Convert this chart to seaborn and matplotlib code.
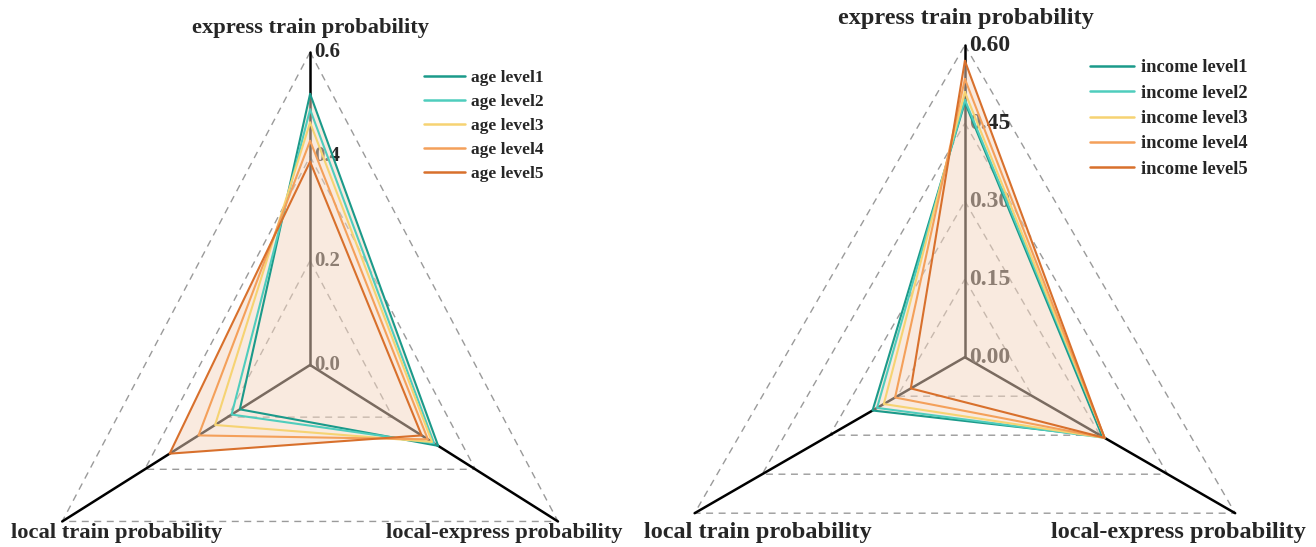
import numpy as np
import pandas as pd
import matplotlib
matplotlib.use("Agg")
import matplotlib.pyplot as plt
import seaborn as sns
from matplotlib.path import Path
from matplotlib.patches import PathPatch

# axis names (order: top, lower right, lower left)
axis_names = ["express train probability", "local-express probability", "local train probability"]

age_levels = ["age level1", "age level2", "age level3", "age level4", "age level5"]
age_express = [0.52, 0.49, 0.465, 0.43, 0.39]
age_local_express = [0.31, 0.30, 0.295, 0.285, 0.27]
age_local = [0.17, 0.19, 0.23, 0.27, 0.34]
age_ticks = [0.0, 0.2, 0.4, 0.6]
age_tick_labels = ["0.0", "0.2", "0.4", "0.6"]

income_levels = ["income level1", "income level2", "income level3", "income level4", "income level5"]
income_express = [0.49, 0.495, 0.51, 0.535, 0.57]
income_local_express = [0.305, 0.31, 0.31, 0.31, 0.31]
income_local = [0.205, 0.195, 0.18, 0.155, 0.12]
income_ticks = [0.0, 0.15, 0.30, 0.45, 0.60]
income_tick_labels = ["0.00", "0.15", "0.30", "0.45", "0.60"]

colors = ["#1b9a8a", "#4fcdbd", "#f6d372", "#f4a05a", "#d8702c"]

angles = np.deg2rad([90, -30, 210])

sns.set_style("white")
plt.rcParams["font.family"] = ["Liberation Serif", "DejaVu Serif"]
plt.rcParams["font.weight"] = "bold"


def radar(ax, levels, express, local_express, local, ticks, tick_labels, fs, leg_anchor, leg_fs):
    rows = []
    for i, lv in enumerate(levels):
        vals = [express[i], local_express[i], local[i], express[i]]
        angs = list(angles) + [angles[0]]
        for v, a in zip(vals, angs):
            rows.append({"level": lv, "x": v * np.cos(a), "y": v * np.sin(a)})
    df = pd.DataFrame(rows)

    rmax = ticks[-1]
    # triangular dashed grid
    for t in ticks[1:]:
        gx = list(t * np.cos(angles)) + [t * np.cos(angles[0])]
        gy = list(t * np.sin(angles)) + [t * np.sin(angles[0])]
        ax.plot(gx, gy, color="#9a9a9a", lw=1.0, ls=(0, (5, 4)), zorder=1)
    # spokes
    for a in angles:
        ax.plot([0, rmax * np.cos(a)], [0, rmax * np.sin(a)], color="black", lw=1.8, zorder=2)
    # tick labels on the vertical spoke
    for t, lab in zip(ticks, tick_labels):
        ax.text(0.008, t, lab, ha="left", va="center", fontsize=fs, fontweight="bold", zorder=2)

    # shaded union of the polygons
    paths = []
    for lv in levels:
        sub = df[df["level"] == lv]
        paths.append(Path(np.column_stack([sub["x"], sub["y"]])))
    comp = Path.make_compound_path(*paths)
    ax.add_patch(PathPatch(comp, facecolor="#f4d6c0", edgecolor="none", alpha=0.5, zorder=3))

    sns.lineplot(data=df, x="x", y="y", hue="level", palette=colors, sort=False,
                 estimator=None, lw=1.5, ax=ax, zorder=4)

    old = ax.get_legend()
    handles = old.legend_handles
    labels = [t.get_text() for t in old.get_texts()]
    for h in handles:
        h.set_linewidth(1.8)
    ax.legend(handles, labels, loc="upper left", bbox_to_anchor=leg_anchor, frameon=False,
              prop={"family": "Liberation Serif", "weight": "bold", "size": leg_fs},
              handlelength=2.4, handletextpad=0.35, labelspacing=0.45, borderaxespad=0)

    ax.set_axis_off()


fig = plt.figure(figsize=(13.16, 5.47), dpi=100)
ax1 = fig.add_axes([0, 0, 645 / 1316, 1])
ax2 = fig.add_axes([645 / 1316, 0, 671 / 1316, 1])

radar(ax1, age_levels, age_express, age_local_express, age_local,
      age_ticks, age_tick_labels, 15, (0.646, 0.885), 12.5)
ax1.set_xlim(-0.65, 0.702)
ax1.set_ylim(-0.349, 0.70)
ax1.text(0, 0.647, axis_names[0], ha="center", va="center", fontsize=16.2, fontweight="bold")
ax1.text(0.407, -0.322, axis_names[1], ha="center", va="center", fontsize=16.2, fontweight="bold")
ax1.text(-0.405, -0.322, axis_names[2], ha="center", va="center", fontsize=16.2, fontweight="bold")

radar(ax2, income_levels, income_express, income_local_express, income_local,
      income_ticks, income_tick_labels, 17, (0.652, 0.905), 13.3)
ax2.set_xlim(-0.615, 0.675)
ax2.set_ylim(-0.365, 0.687)
ax2.text(0.002, 0.652, axis_names[0], ha="center", va="center", fontsize=17.5, fontweight="bold")
ax2.text(0.411, -0.338, axis_names[1], ha="center", va="center", fontsize=17.5, fontweight="bold")
ax2.text(-0.398, -0.338, axis_names[2], ha="center", va="center", fontsize=17.5, fontweight="bold")

fig.savefig("out.png", dpi=100)
